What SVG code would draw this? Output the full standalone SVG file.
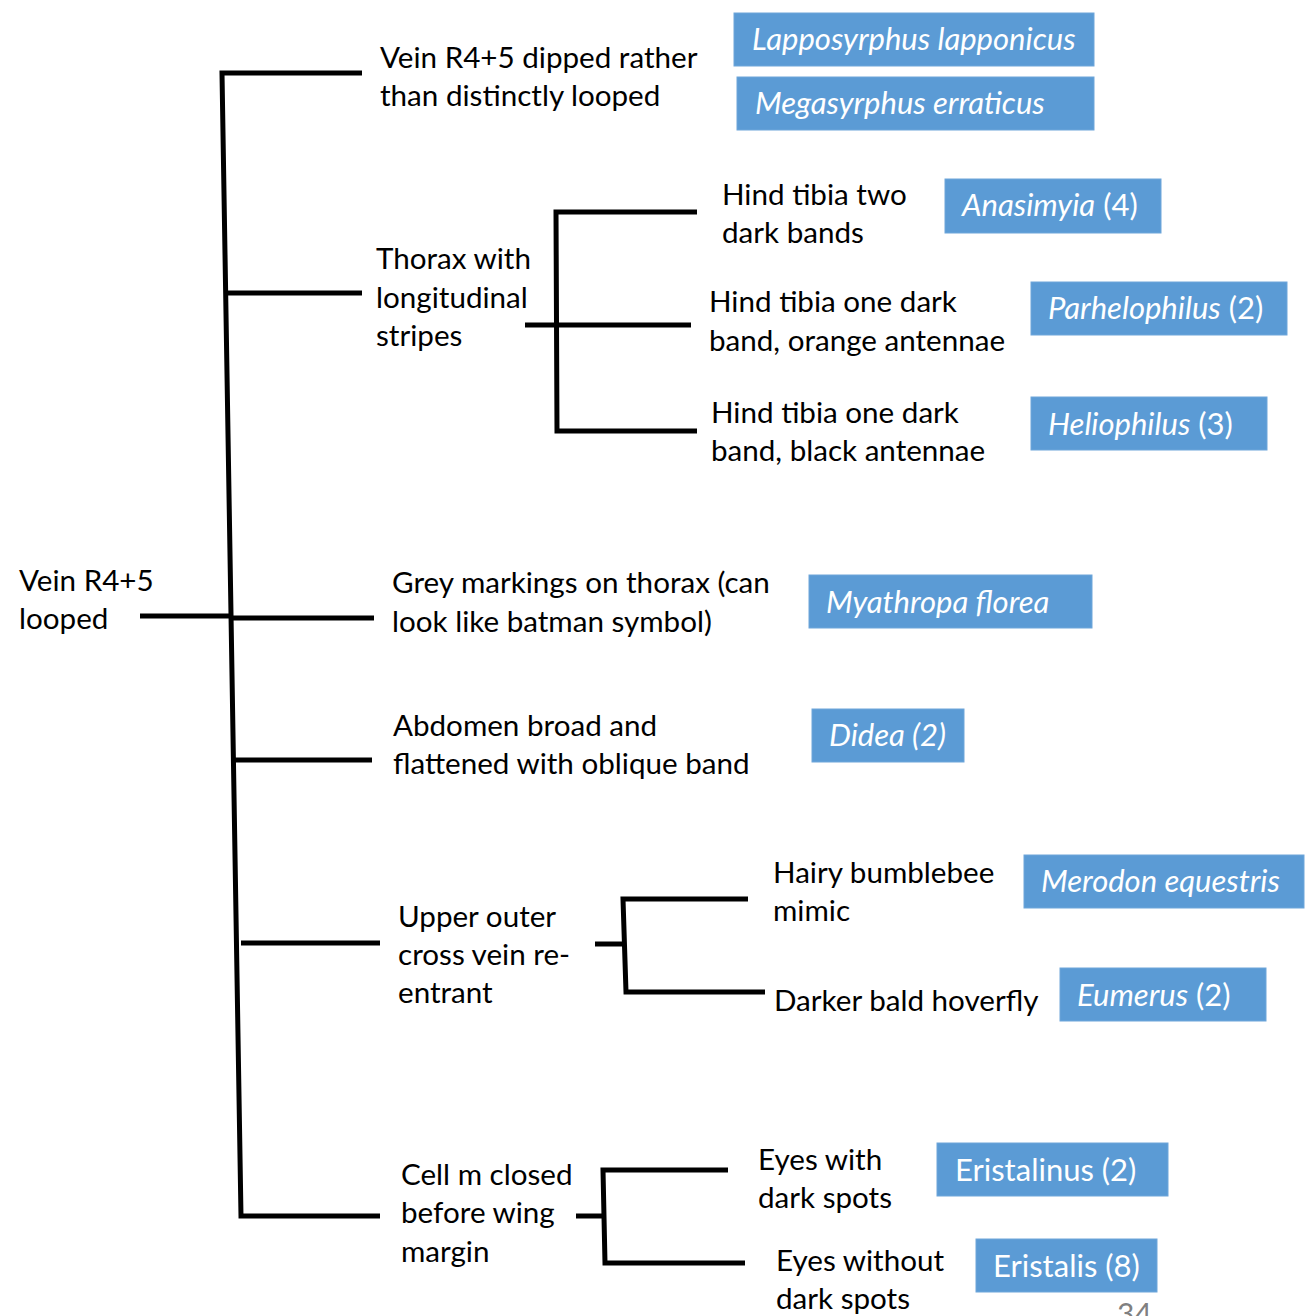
<svg xmlns="http://www.w3.org/2000/svg" width="1311" height="1316" viewBox="0 0 1311 1316">
<style>
.t{font-family:Lato,"Liberation Sans",sans-serif;font-size:29.6px;fill:#000}
.b{fill:#5B9BD5;stroke:#6FA6DA;stroke-width:1}
.bt{font-family:Lato,"Liberation Sans",sans-serif;font-size:31px;fill:#fff}
.i{font-style:italic}
.c{fill:none;stroke:#000;stroke-width:5;stroke-linejoin:miter}
.pg{font-family:Lato,"Liberation Sans",sans-serif;font-size:30px;fill:#808080}
</style>
<rect width="1311" height="1316" fill="#fff"/>
<g id="connectors">
<path class="c" d="M362,73 H222 L241,1216 H380"/>
<path class="c" d="M226,293 H362"/>
<path class="c" d="M140,616 H232"/>
<path class="c" d="M232,618 H374"/>
<path class="c" d="M235,760 H372"/>
<path class="c" d="M241,943 H380"/>
<path class="c" d="M697,212 H556 L557,431 H697"/>
<path class="c" d="M525,325 H691"/>
<path class="c" d="M748,899 H623 L626,992 H765"/>
<path class="c" d="M595,944 H625"/>
<path class="c" d="M728,1170 H603 L605,1263 H745"/>
<path class="c" d="M576,1216 H604"/>
</g>
<g id="root"><text class="t" x="19" y="591">Vein R4+5</text><text class="t" x="19" y="629">looped</text></g>
<g id="n-dipped"><text class="t" x="380" y="68">Vein R4+5 dipped rather</text><text class="t" x="380" y="106">than distinctly looped</text></g>
<g id="n-thorax"><text class="t" x="376" y="269">Thorax with</text><text class="t" x="376" y="308">longitudinal</text><text class="t" x="376" y="346">stripes</text></g>
<g id="n-two"><text class="t" x="722" y="205">Hind tibia two</text><text class="t" x="722" y="243">dark bands</text></g>
<g id="n-orange"><text class="t" x="709" y="312">Hind tibia one dark</text><text class="t" x="709" y="351">band, orange antennae</text></g>
<g id="n-black"><text class="t" x="711" y="423">Hind tibia one dark</text><text class="t" x="711" y="461">band, black antennae</text></g>
<g id="n-grey"><text class="t" x="392" y="593">Grey markings on thorax (can</text><text class="t" x="392" y="632">look like batman symbol)</text></g>
<g id="n-abdomen"><text class="t" x="393" y="736">Abdomen broad and</text><text class="t" x="393" y="774">flattened with oblique band</text></g>
<g id="n-upper"><text class="t" x="398" y="927">Upper outer</text><text class="t" x="398" y="965">cross vein re-</text><text class="t" x="398" y="1003">entrant</text></g>
<g id="n-hairy"><text class="t" x="773" y="883">Hairy bumblebee</text><text class="t" x="773" y="921">mimic</text></g>
<g id="n-darker"><text class="t" x="774" y="1011">Darker bald hoverfly</text></g>
<g id="n-cellm"><text class="t" x="401" y="1185">Cell m closed</text><text class="t" x="401" y="1223">before wing</text><text class="t" x="401" y="1262">margin</text></g>
<g id="n-eyeswith"><text class="t" x="758" y="1170">Eyes with</text><text class="t" x="758" y="1208">dark spots</text></g>
<g id="n-eyeswithout"><text class="t" x="776" y="1271">Eyes without</text><text class="t" x="776" y="1309">dark spots</text></g>
<g id="s-lapposyrphus"><rect class="b" x="734" y="13" width="360" height="53"/><text class="bt i" x="752" y="50">Lapposyrphus lapponicus</text></g>
<g id="s-megasyrphus"><rect class="b" x="737" y="77" width="357" height="53"/><text class="bt i" x="755" y="114">Megasyrphus erraticus</text></g>
<g id="s-anasimyia"><rect class="b" x="945" y="179" width="216" height="54"/><text class="bt" x="962" y="216"><tspan class="i">Anasimyia</tspan> (4)</text></g>
<g id="s-parhelophilus"><rect class="b" x="1031" y="282" width="256" height="53"/><text class="bt" x="1048" y="319"><tspan class="i">Parhelophilus</tspan> (2)</text></g>
<g id="s-heliophilus"><rect class="b" x="1031" y="397" width="236" height="53"/><text class="bt" x="1048" y="435"><tspan class="i">Heliophilus</tspan> (3)</text></g>
<g id="s-myathropa"><rect class="b" x="809" y="575" width="283" height="53"/><text class="bt i" x="826" y="613">Myathropa florea</text></g>
<g id="s-didea"><rect class="b" x="812" y="709" width="152" height="53"/><text class="bt i" x="829" y="746">Didea (2)</text></g>
<g id="s-merodon"><rect class="b" x="1024" y="855" width="280" height="53"/><text class="bt i" x="1041" y="892">Merodon equestris</text></g>
<g id="s-eumerus"><rect class="b" x="1060" y="968" width="206" height="53"/><text class="bt" x="1077" y="1006"><tspan class="i">Eumerus</tspan> (2)</text></g>
<g id="s-eristalinus"><rect class="b" x="937" y="1143" width="231" height="53"/><text class="bt" x="955" y="1181">Eristalinus (2)</text></g>
<g id="s-eristalis"><rect class="b" x="976" y="1239" width="181" height="53"/><text class="bt" x="993" y="1277">Eristalis (8)</text></g>
<text class="pg" x="1117" y="1325">34</text>
</svg>
